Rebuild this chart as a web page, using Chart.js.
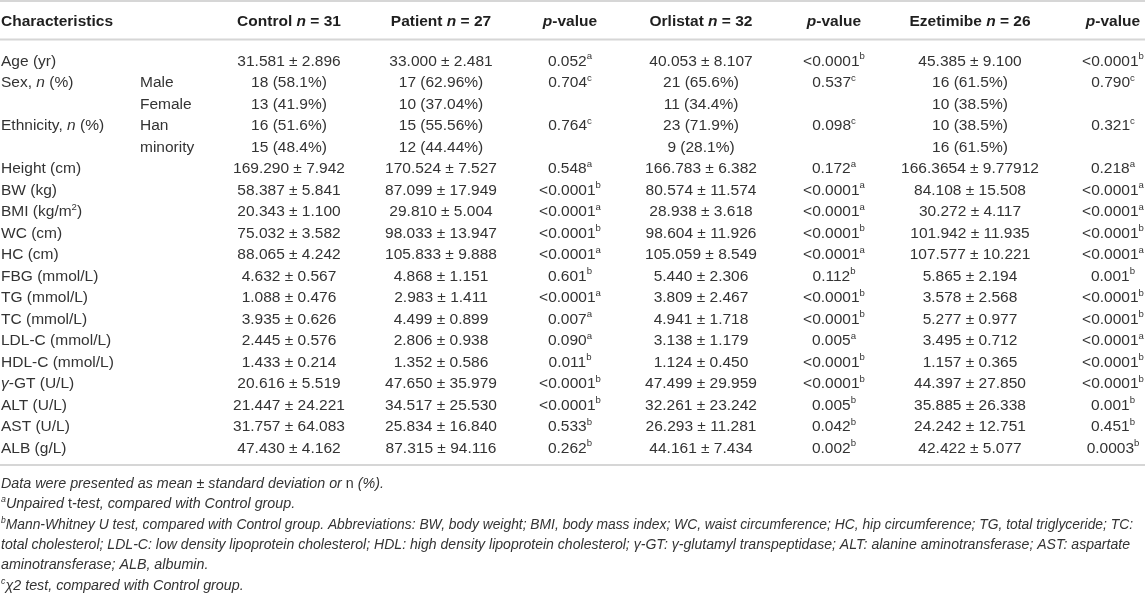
<!DOCTYPE html>
<html>
<head>
<meta charset="utf-8">
<script src="https://cdn.jsdelivr.net/npm/chart.js@4.4.1/dist/chart.umd.min.js"></script>
<style>
html,body{margin:0;padding:0;background:#fff;overflow:hidden}
#wrap{width:1145px;height:593px;position:relative}
canvas{display:block}
</style>
</head>
<body>
<div id="wrap"><canvas id="c" width="1145" height="593"></canvas></div>
<script>
// ---- DATA ----
const headers = ['Characteristics', '', 'Control *n* = 31', 'Patient *n* = 27', '*p*-value',
  'Orlistat *n* = 32', '*p*-value', 'Ezetimibe *n* = 26', '*p*-value'];

const characteristics = ['Age (yr)', 'Sex, *n* (%)', '', 'Ethnicity, *n* (%)', '', 'Height (cm)',
  'BW (kg)', 'BMI (kg/m^{2})', 'WC (cm)', 'HC (cm)', 'FBG (mmol/L)', 'TG (mmol/L)', 'TC (mmol/L)',
  'LDL-C (mmol/L)', 'HDL-C (mmol/L)', '*γ*-GT (U/L)', 'ALT (U/L)', 'AST (U/L)', 'ALB (g/L)'];

const subgroups = ['', 'Male', 'Female', 'Han', 'minority', '', '', '', '', '', '', '', '', '', '', '', '', '', ''];

const controlValues = ['31.581 ± 2.896', '18 (58.1%)', '13 (41.9%)', '16 (51.6%)', '15 (48.4%)',
  '169.290 ± 7.942', '58.387 ± 5.841', '20.343 ± 1.100', '75.032 ± 3.582', '88.065 ± 4.242',
  '4.632 ± 0.567', '1.088 ± 0.476', '3.935 ± 0.626', '2.445 ± 0.576', '1.433 ± 0.214',
  '20.616 ± 5.519', '21.447 ± 24.221', '31.757 ± 64.083', '47.430 ± 4.162'];

const patientValues = ['33.000 ± 2.481', '17 (62.96%)', '10 (37.04%)', '15 (55.56%)', '12 (44.44%)',
  '170.524 ± 7.527', '87.099 ± 17.949', '29.810 ± 5.004', '98.033 ± 13.947', '105.833 ± 9.888',
  '4.868 ± 1.151', '2.983 ± 1.411', '4.499 ± 0.899', '2.806 ± 0.938', '1.352 ± 0.586',
  '47.650 ± 35.979', '34.517 ± 25.530', '25.834 ± 16.840', '87.315 ± 94.116'];

const pPatient = ['0.052', '0.704', '', '0.764', '', '0.548', '<0.0001', '<0.0001', '<0.0001', '<0.0001',
  '0.601', '<0.0001', '0.007', '0.090', '0.011', '<0.0001', '<0.0001', '0.533', '0.262'];
const testPatient = ['a', 'c', '', 'c', '', 'a', 'b', 'a', 'b', 'a', 'b', 'a', 'a', 'a', 'b', 'b', 'b', 'b', 'b'];

const orlistatValues = ['40.053 ± 8.107', '21 (65.6%)', '11 (34.4%)', '23 (71.9%)', '9 (28.1%)',
  '166.783 ± 6.382', '80.574 ± 11.574', '28.938 ± 3.618', '98.604 ± 11.926', '105.059 ± 8.549',
  '5.440 ± 2.306', '3.809 ± 2.467', '4.941 ± 1.718', '3.138 ± 1.179', '1.124 ± 0.450',
  '47.499 ± 29.959', '32.261 ± 23.242', '26.293 ± 11.281', '44.161 ± 7.434'];

const pOrlistat = ['<0.0001', '0.537', '', '0.098', '', '0.172', '<0.0001', '<0.0001', '<0.0001', '<0.0001',
  '0.112', '<0.0001', '<0.0001', '0.005', '<0.0001', '<0.0001', '0.005', '0.042', '0.002'];
const testOrlistat = ['b', 'c', '', 'c', '', 'a', 'a', 'a', 'b', 'a', 'b', 'b', 'b', 'a', 'b', 'b', 'b', 'b', 'b'];

const ezetimibeValues = ['45.385 ± 9.100', '16 (61.5%)', '10 (38.5%)', '10 (38.5%)', '16 (61.5%)',
  '166.3654 ± 9.77912', '84.108 ± 15.508', '30.272 ± 4.117', '101.942 ± 11.935', '107.577 ± 10.221',
  '5.865 ± 2.194', '3.578 ± 2.568', '5.277 ± 0.977', '3.495 ± 0.712', '1.157 ± 0.365',
  '44.397 ± 27.850', '35.885 ± 26.338', '24.242 ± 12.751', '42.422 ± 5.077'];

const pEzetimibe = ['<0.0001', '0.790', '', '0.321', '', '0.218', '<0.0001', '<0.0001', '<0.0001', '<0.0001',
  '0.001', '<0.0001', '<0.0001', '<0.0001', '<0.0001', '<0.0001', '0.001', '0.451', '0.0003'];
const testEzetimibe = ['b', 'c', '', 'c', '', 'a', 'a', 'a', 'b', 'a', 'b', 'b', 'b', 'a', 'b', 'b', 'b', 'b', 'b'];

const footnotes = [
  'Data were presented as mean ± standard deviation or *n* (%).',
  '^{a}Unpaired *t*-test, compared with Control group.',
  '^{b}Mann-Whitney U test, compared with Control group. Abbreviations: BW, body weight; BMI, body mass index; WC, waist circumference; HC, hip circumference; TG, total triglyceride; TC:',
  'total cholesterol; LDL-C: low density lipoprotein cholesterol; HDL: high density lipoprotein cholesterol; γ-GT: γ-glutamyl transpeptidase; ALT: alanine aminotransferase; AST: aspartate',
  'aminotransferase; ALB, albumin.',
  '^{c}χ2 test, compared with Control group.'
];

// ---- LAYOUT / STYLE ----
const layout = {
  colX: [1, 140, 289, 441, 570, 701, 834, 970, 1113],
  colAlign: ['left', 'left', 'center', 'center', 'center', 'center', 'center', 'center', 'center'],
  bodySize: 15.5, headSize: 15.5, footSize: 14.3, supRatio: 0.62,
  headerOffset: -40, topRuleOffset: -59, headRuleOffset: -20.5,
  bottomRuleOffset: 18, footStart: 36, footStep: 20.3,
  footMaxWidth: [0, 0, 1133, 1130, 0, 0],
  bodyColor: '#333333', headColor: '#1f1f1f', ruleColor: '#d6d6d6'
};
const FONT = '"Liberation Sans", Arial, Helvetica, sans-serif';

function parseRich(s, baseItalic) {
  const runs = []; let it = baseItalic, sup = false, buf = '';
  const push = () => { if (buf) runs.push({ t: buf, it, sup }); buf = ''; };
  for (let i = 0; i < s.length; i++) {
    const ch = s[i];
    if (ch === '*') { push(); it = !it; }
    else if (ch === '^' && s[i + 1] === '{') { push(); sup = true; i++; }
    else if (ch === '}' && sup) { push(); sup = false; }
    else buf += ch;
  }
  push();
  return runs;
}

function fontFor(run, size, weight) {
  const sz = run.sup ? size * layout.supRatio : size;
  return (run.it ? 'italic ' : '') + weight + ' ' + sz + 'px ' + FONT;
}

function drawRich(ctx, s, x, y, o) {
  if (!s) return;
  const runs = parseRich(s, !!o.italic);
  const weight = o.weight || 'normal';
  let total = 0;
  runs.forEach(r => { ctx.font = fontFor(r, o.size, weight); r.w = ctx.measureText(r.t).width; total += r.w; });
  let scale = 1;
  if (o.maxWidth && total > 0) scale = (o.maxWidth - x) / total;
  const w = total * scale;
  let x0 = o.align === 'center' ? x - w / 2 : (o.align === 'right' ? x - w : x);
  ctx.save();
  ctx.translate(x0, y);
  ctx.scale(scale, 1);
  ctx.fillStyle = o.color;
  ctx.textBaseline = 'alphabetic';
  ctx.textAlign = 'left';
  let cx = 0;
  const base = o.size * 0.36;
  runs.forEach(r => {
    ctx.font = fontFor(r, o.size, weight);
    ctx.fillText(r.t, cx, r.sup ? base - o.size * 0.42 : base);
    cx += r.w;
  });
  ctx.restore();
}

const tablePlugin = {
  id: 'tableText',
  afterDraw(chart) {
    const ctx = chart.ctx;
    const xs = chart.scales.x, ys = chart.scales.y;
    const n = characteristics.length;
    const y0 = ys.getPixelForValue(0);
    const yN = ys.getPixelForValue(n - 1);
    const X = v => xs.getPixelForValue(v);

    // rules
    ctx.save();
    ctx.strokeStyle = layout.ruleColor;
    ctx.lineWidth = 2;
    [y0 + layout.topRuleOffset, y0 + layout.headRuleOffset, yN + layout.bottomRuleOffset].forEach(yy => {
      ctx.beginPath(); ctx.moveTo(xs.left, yy); ctx.lineTo(xs.right, yy); ctx.stroke();
    });
    ctx.restore();

    // header
    headers.forEach((h, c) => drawRich(ctx, h, X(layout.colX[c]), y0 + layout.headerOffset,
      { size: layout.headSize, weight: 'bold', align: layout.colAlign[c], color: layout.headColor }));

    // body
    const cols = [
      characteristics, subgroups, controlValues, patientValues,
      pPatient.map((p, i) => p ? p + '^{' + testPatient[i] + '}' : ''),
      orlistatValues,
      pOrlistat.map((p, i) => p ? p + '^{' + testOrlistat[i] + '}' : ''),
      ezetimibeValues,
      pEzetimibe.map((p, i) => p ? p + '^{' + testEzetimibe[i] + '}' : '')
    ];
    for (let r = 0; r < n; r++) {
      const yy = ys.getPixelForValue(r);
      cols.forEach((col, c) => drawRich(ctx, col[r], X(layout.colX[c]), yy,
        { size: layout.bodySize, align: layout.colAlign[c], color: layout.bodyColor }));
    }

    // footnotes
    footnotes.forEach((f, k) => drawRich(ctx, f, X(1), yN + layout.footStart + k * layout.footStep,
      { size: layout.footSize, italic: true, align: 'left', color: layout.bodyColor,
        maxWidth: layout.footMaxWidth[k] || 0 }));
  }
};

new Chart(document.getElementById('c').getContext('2d'), {
  type: 'scatter',
  data: { datasets: [] },
  options: {
    responsive: false,
    animation: false,
    events: [],
    layout: { padding: { top: 60, bottom: 146, left: 0, right: 0 } },
    plugins: { legend: { display: false }, tooltip: { enabled: false } },
    scales: {
      x: { type: 'linear', min: 0, max: 1145, display: false },
      y: { type: 'category', labels: characteristics.map((c, i) => String(i)), offset: false, display: false }
    }
  },
  plugins: [tablePlugin]
});
</script>
</body>
</html>
